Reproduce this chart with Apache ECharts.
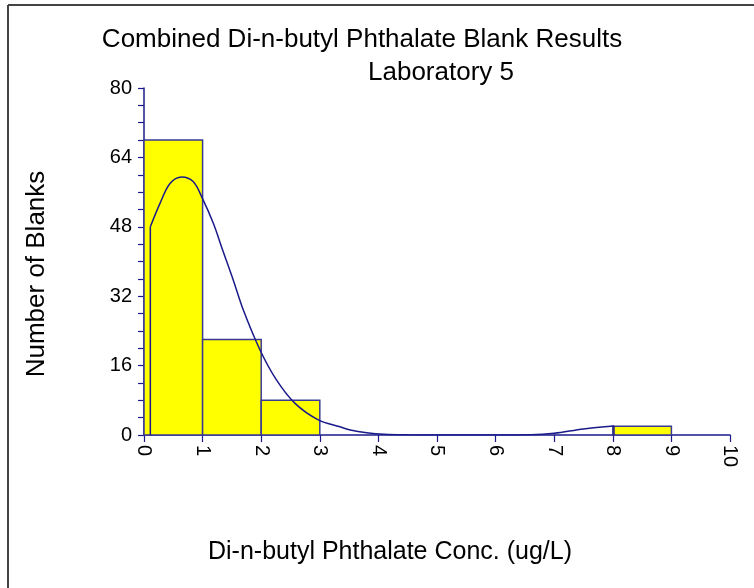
<!DOCTYPE html>
<html>
<head>
<meta charset="utf-8">
<script src="https://cdn.jsdelivr.net/npm/echarts@6/dist/echarts.min.js"></script>
<style>
  html, body { margin: 0; padding: 0; background: #ffffff; }
  #chart { width: 754px; height: 588px; }
</style>
</head>
<body>
<div id="chart"></div>
<script>
// Histogram bins (ug/L) and number of blanks in each
var binStarts = [0, 1, 2, 8];
var binEnds = [1, 2, 3, 9];
var counts = [68, 22, 8, 2];

// Fitted density curve, scaled to counts
var curveX = [0.108, 0.273, 0.444, 0.643, 0.842, 0.995, 1.183, 1.343, 1.524, 1.695, 1.98, 2.26, 2.577, 2.975, 3.345, 3.52, 3.8, 4.1, 4.5, 5.0, 6.0, 6.6, 7.0, 7.5, 8.02];
var curveY = [48.0, 53.4, 58.0, 59.5, 58.4, 54.6, 48.8, 42.6, 35.7, 28.8, 19.6, 12.7, 7.3, 3.5, 1.9, 1.15, 0.5, 0.15, 0.03, 0, 0, 0.05, 0.4, 1.4, 2.05];

// Axis ticks
var xTicks = [0, 1, 2, 3, 4, 5, 6, 7, 8, 9, 10];
var yTicks = [0, 16, 32, 48, 64, 80];

var titleLines = ['Combined Di-n-butyl Phthalate Blank Results', 'Laboratory 5'];
var xName = 'Di-n-butyl Phthalate Conc. (ug/L)';
var yName = 'Number of Blanks';

var navy = '#1a1a8a';
var font = '"Liberation Sans", Arial, sans-serif';

var chart = echarts.init(document.getElementById('chart'), null, { renderer: 'canvas' });

var curveData = curveX.map(function (x, i) { return [x, curveY[i]]; });
var leftEdge = [[curveX[0], 0], [curveX[0], curveY[0]]];
var lastI = curveX.length - 1;
var rightEdge = [[curveX[lastI], curveY[lastI]], [curveX[lastI], 0]];

function label(text, x, y, size, rot) {
  return {
    type: 'text', x: x, y: y, rotation: rot || 0,
    style: { text: text, font: size + 'px ' + font, fill: '#000', textAlign: 'center', textVerticalAlign: 'middle' }
  };
}

chart.setOption({
  animation: false,
  backgroundColor: '#ffffff',
  graphic: [
    { type: 'line', shape: { x1: 8, y1: 5, x2: 754, y2: 5 }, style: { stroke: '#444444', lineWidth: 2 } },
    { type: 'line', shape: { x1: 8, y1: 5, x2: 8, y2: 588 }, style: { stroke: '#444444', lineWidth: 2 } },
    label(titleLines[0], 362, 40, 26),
    label(titleLines[1], 441, 73, 26),
    label(xName, 390, 552, 25),
    label(yName, 37, 274, 26, Math.PI / 2)
  ],
  grid: { left: 144, right: 24, top: 88, bottom: 153, containLabel: false },
  xAxis: {
    type: 'value',
    min: xTicks[0],
    max: xTicks[xTicks.length - 1],
    interval: 1,
    axisLine: { show: true, onZero: false, lineStyle: { color: navy, width: 1.5 } },
    axisTick: { show: true, inside: false, length: 7, lineStyle: { color: navy, width: 1.2 } },
    axisLabel: { rotate: -90, margin: 10, fontFamily: font, fontSize: 20, color: '#000' },
    splitLine: { show: false }
  },
  yAxis: {
    type: 'value',
    min: yTicks[0],
    max: yTicks[yTicks.length - 1],
    interval: 16,
    axisLine: { show: true, lineStyle: { color: navy, width: 1.5 } },
    axisTick: { show: true, inside: false, length: 6, lineStyle: { color: navy, width: 1.2 } },
    minorTick: { show: true, splitNumber: 4, length: 6, lineStyle: { color: navy, width: 1.2 } },
    axisLabel: { margin: 12, fontFamily: font, fontSize: 20, color: '#000' },
    splitLine: { show: false }
  },
  series: [
    {
      type: 'custom',
      z: 2,
      renderItem: function (params, api) {
        var p0 = api.coord([api.value(0), api.value(2)]);
        var p1 = api.coord([api.value(1), 0]);
        return {
          type: 'rect',
          shape: { x: p0[0], y: p0[1], width: p1[0] - p0[0], height: p1[1] - p0[1] },
          style: { fill: '#ffff00', stroke: '#3a3a96', lineWidth: 1.5 }
        };
      },
      encode: { x: [0, 1], y: 2 },
      data: binStarts.map(function (s, i) { return [s, binEnds[i], counts[i]]; })
    },
    {
      type: 'line', z: 3, smooth: 0.35, showSymbol: false, symbol: 'none',
      lineStyle: { color: navy, width: 1.5 },
      data: curveData
    },
    {
      type: 'line', z: 3, showSymbol: false, symbol: 'none',
      lineStyle: { color: navy, width: 1.5 },
      data: leftEdge
    },
    {
      type: 'line', z: 3, showSymbol: false, symbol: 'none',
      lineStyle: { color: navy, width: 1.5 },
      data: rightEdge
    }
  ]
});
</script>
</body>
</html>
